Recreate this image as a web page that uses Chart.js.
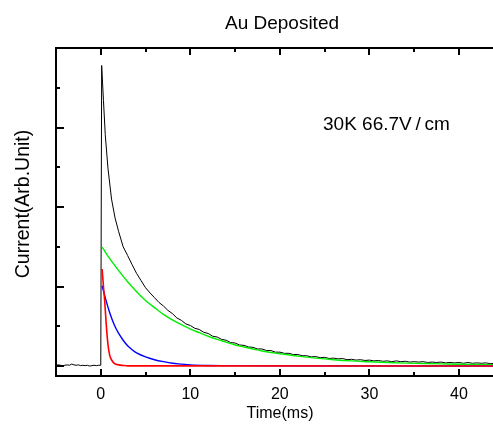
<!DOCTYPE html>
<html>
<head>
<meta charset="utf-8">
<script src="https://cdn.jsdelivr.net/npm/chart.js@4.4.0/dist/chart.umd.min.js"></script>
<style>
  html, body { margin: 0; padding: 0; background: #fff; }
</style>
</head>
<body>
<canvas id="decayChart" width="493" height="427"></canvas>
<script>
// measured transient (black)
const expTime = [
  -5, -4.75, -4.5, -4.25, -4, -3.75, -3.5, -3.25, -3, -2.75, -2.5, -2.25, -2, -1.75, -1.5, -1.25, -1, -0.75, -0.5, -0.25, 0,
  0.1, 0.3, 0.5, 0.8, 1.2, 1.6, 2.0, 2.5, 3.0, 3.5, 4.0, 4.5, 5.0,
  5.5, 6, 6.5, 7, 7.5, 8, 8.5, 9, 9.5, 10, 10.5, 11, 11.5, 12, 12.5, 13, 13.5, 14, 14.5, 15,
  15.5, 16, 16.5, 17, 17.5, 18, 18.5, 19, 19.5, 20, 20.5, 21, 21.5, 22, 22.5, 23, 23.5, 24, 24.5, 25,
  25.5, 26, 26.5, 27, 27.5, 28, 28.5, 29, 29.5, 30, 30.5, 31, 31.5, 32, 32.5, 33, 33.5, 34, 34.5, 35,
  35.5, 36, 36.5, 37, 37.5, 38, 38.5, 39, 39.5, 40, 40.5, 41, 41.5, 42, 42.5, 43, 43.5, 44
];
const expCurrent = [
  0.02, 0.03, 0.02, 0.01, 0.02, 0.03, 0.02, 0.05, 0.03, 0.02, 0.03, 0.01, 0.02, 0.01, 0.02, 0.00, 0.01, 0.02, 0.01, 0.02, 0.02,
  7.56, 6.68, 5.82, 4.98, 4.2, 3.72, 3.38, 3.0, 2.78, 2.55, 2.33, 2.15, 1.97,
  1.84, 1.72, 1.60, 1.51, 1.40, 1.32, 1.21, 1.15, 1.06, 1.02, 0.95, 0.92, 0.85, 0.82, 0.75, 0.73, 0.67, 0.65, 0.59, 0.58,
  0.53, 0.52, 0.48, 0.47, 0.43, 0.43, 0.39, 0.39, 0.35, 0.35, 0.32, 0.32, 0.29, 0.29, 0.26, 0.26, 0.23, 0.24, 0.21, 0.22,
  0.19, 0.20, 0.18, 0.19, 0.16, 0.17, 0.15, 0.16, 0.14, 0.15, 0.13, 0.14, 0.12, 0.13, 0.11, 0.13, 0.11, 0.12, 0.10, 0.11,
  0.10, 0.11, 0.09, 0.10, 0.09, 0.10, 0.08, 0.09, 0.08, 0.09, 0.07, 0.09, 0.07, 0.08, 0.07, 0.08, 0.06, 0.07
];

// slow component (green)
const slowTime = [0.15, 1, 2, 3, 4, 5, 6, 7, 8, 9, 10, 11, 12, 13, 14, 15, 16, 17, 18, 19, 20, 22, 24, 26, 28, 30, 32, 34, 36, 38, 40, 42, 44];
const slowCurrent = [2.99, 2.70, 2.40, 2.12, 1.87, 1.65, 1.47, 1.30, 1.16, 1.04, 0.93, 0.84, 0.75, 0.67, 0.60, 0.53, 0.48, 0.43, 0.38, 0.34, 0.31, 0.25, 0.20, 0.16, 0.13, 0.11, 0.09, 0.075, 0.065, 0.055, 0.045, 0.04, 0.035];

// middle component (blue)
const midTime = [0.15, 0.5, 1, 1.5, 2, 2.5, 3, 3.5, 4, 5, 6, 7, 8, 9, 10, 12, 15, 20, 44];
const midCurrent = [2.02, 1.72, 1.34, 1.04, 0.82, 0.65, 0.51, 0.41, 0.33, 0.23, 0.16, 0.11, 0.07, 0.05, 0.03, 0.015, 0.01, 0.005, 0];

// fast component (red)
const fastTime = [0.15, 0.3, 0.45, 0.6, 0.8, 1.0, 1.25, 1.5, 2, 2.5, 3, 44];
const fastCurrent = [2.44, 2.0, 1.6, 1.08, 0.55, 0.27, 0.14, 0.07, 0.03, 0.015, 0.005, 0];

const xMajorTicks = [0, 10, 20, 30, 40];
const xMinorTicks = [5, 15, 25, 35];
const yMajorTicks = [0, 2, 4, 6];
const yMinorTicks = [1, 3, 5, 7];

const toPoints = (xs, ys) => xs.map((v, i) => ({ x: v, y: ys[i] }));

// ticks pointing inward plus the texts, drawn through the scales
const frameDecor = {
    id: 'frameDecor',
    afterDraw(chart) {
        const { ctx, chartArea: a, scales: { x, y } } = chart;
        ctx.save();
        ctx.strokeStyle = '#000';
        ctx.lineWidth = 2;
        ctx.beginPath();
        ctx.moveTo(a.left - 1, a.top);
        ctx.lineTo(a.right, a.top);
        const xt = (vals, len) => vals.forEach(v => {
            const px = Math.round(x.getPixelForValue(v));
            ctx.moveTo(px, a.bottom); ctx.lineTo(px, a.bottom - len);
            ctx.moveTo(px, a.top); ctx.lineTo(px, a.top + len);
        });
        const yt = (vals, len) => vals.forEach(v => {
            const py = Math.round(y.getPixelForValue(v));
            ctx.moveTo(a.left, py); ctx.lineTo(a.left + len, py);
        });
        xt(xMajorTicks, 7);
        xt(xMinorTicks, 4);
        yt(yMajorTicks, 8);
        yt(yMinorTicks, 4);
        ctx.stroke();

        ctx.fillStyle = '#000';
        ctx.textAlign = 'center';
        ctx.textBaseline = 'alphabetic';
        ctx.font = '19px "Liberation Sans", Arial, sans-serif';
        ctx.fillText('Au Deposited', 282, 29);

        ctx.textAlign = 'left';
        ctx.fillText('30K 66.7V\u2009/\u2009cm', 323, 130);

        ctx.textAlign = 'center';
        ctx.font = '16px "Liberation Sans", Arial, sans-serif';
        ctx.fillText('Time(ms)', 280, 418);

        ctx.translate(29, 204);
        ctx.rotate(-Math.PI / 2);
        ctx.font = '19.5px "Liberation Sans", Arial, sans-serif';
        ctx.fillText('Current(Arb.Unit)', 0, 0);
        ctx.restore();
    }
};

const ctx = document.getElementById('decayChart').getContext('2d');
new Chart(ctx, {
    type: 'line',
    data: {
        datasets: [
            {
                label: 'fast',
                data: toPoints(fastTime, fastCurrent),
                borderColor: '#ff0000',
                borderWidth: 1.6,
                cubicInterpolationMode: 'monotone'
            },
            {
                label: 'middle',
                data: toPoints(midTime, midCurrent),
                borderColor: '#0000ff',
                borderWidth: 1.4,
                cubicInterpolationMode: 'monotone'
            },
            {
                label: 'slow',
                data: toPoints(slowTime, slowCurrent),
                borderColor: '#00f000',
                borderWidth: 1.4,
                cubicInterpolationMode: 'monotone'
            },
            {
                label: 'measured',
                data: toPoints(expTime, expCurrent),
                borderColor: '#000000',
                borderWidth: 1,
                tension: 0
            }
        ]
    },
    options: {
        responsive: false,
        animation: false,
        layout: { padding: { top: 48, right: 0, left: 0, bottom: 0 } },
        elements: { point: { radius: 0 } },
        plugins: {
            legend: { display: false },
            tooltip: { enabled: false }
        },
        scales: {
            x: {
                type: 'linear',
                min: -5,
                max: 43.8,
                grid: { display: false, drawTicks: false },
                border: { display: true, color: '#000', width: 2 },
                afterBuildTicks: scale => { scale.ticks = xMajorTicks.map(v => ({ value: v })); },
                afterFit: scale => { scale.height = 51; },
                ticks: {
                    padding: 9,
                    color: '#000',
                    font: { family: '"Liberation Sans", Arial, sans-serif', size: 16 }
                }
            },
            y: {
                type: 'linear',
                min: -0.25,
                max: 8,
                grid: { display: false, drawTicks: false },
                border: { display: true, color: '#000', width: 2 },
                afterFit: scale => { scale.width = 56; },
                ticks: { display: false }
            }
        }
    },
    plugins: [frameDecor]
});
</script>
</body>
</html>
